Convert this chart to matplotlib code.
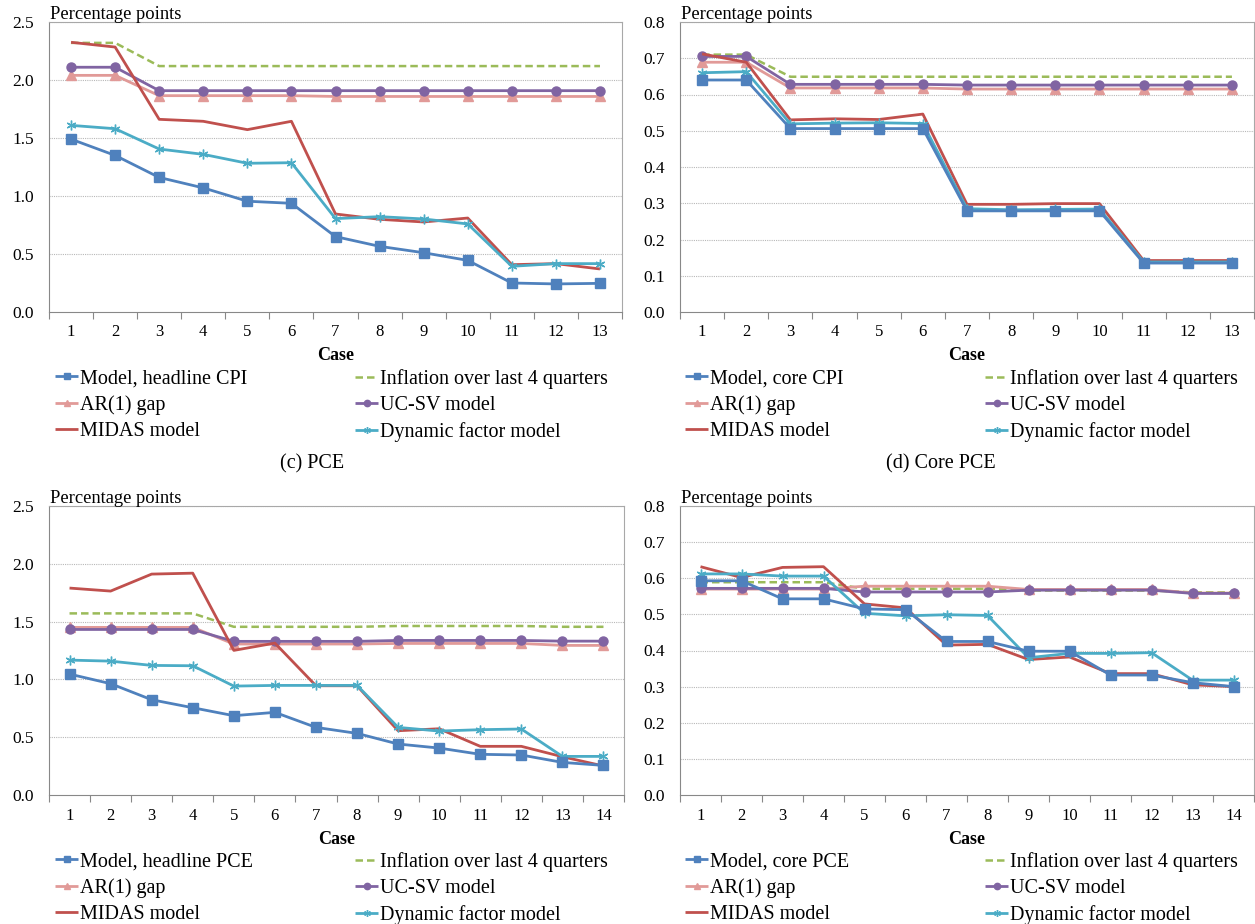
import matplotlib
matplotlib.use("Agg")
import matplotlib.pyplot as plt
import numpy as np

plt.rcParams['font.family'] = ['Liberation Serif', 'DejaVu Serif']

# ---------------- data ----------------
cases13 = list(range(1, 14))
cases14 = list(range(1, 15))

# Panel top-left (headline CPI)
a_model = [1.49, 1.35, 1.16, 1.07, 0.955, 0.937, 0.65, 0.566, 0.511, 0.445, 0.25, 0.242, 0.247]
a_infl = [2.32, 2.32, 2.12, 2.12, 2.12, 2.12, 2.12, 2.12, 2.12, 2.12, 2.12, 2.12, 2.12]
a_ar1 = [2.04, 2.04, 1.865, 1.865, 1.865, 1.865, 1.858, 1.858, 1.858, 1.858, 1.858, 1.858, 1.858]
a_ucsv = [2.11, 2.11, 1.908, 1.908, 1.908, 1.908, 1.908, 1.908, 1.908, 1.908, 1.908, 1.908, 1.908]
a_midas = [2.325, 2.284, 1.661, 1.644, 1.572, 1.644, 0.845, 0.799, 0.776, 0.81, 0.408, 0.417, 0.371]
a_dfm = [1.609, 1.58, 1.405, 1.359, 1.282, 1.287, 0.805, 0.822, 0.802, 0.759, 0.394, 0.417, 0.417]

# Panel top-right (core CPI)
b_model = [0.64, 0.64, 0.506, 0.506, 0.506, 0.506, 0.279, 0.279, 0.279, 0.279, 0.135, 0.135, 0.135]
b_infl = [0.71, 0.71, 0.649, 0.649, 0.649, 0.649, 0.649, 0.649, 0.649, 0.649, 0.649, 0.649, 0.649]
b_ar1 = [0.689, 0.689, 0.618, 0.618, 0.618, 0.618, 0.615, 0.615, 0.615, 0.615, 0.615, 0.615, 0.615]
b_ucsv = [0.705, 0.705, 0.628, 0.628, 0.628, 0.628, 0.626, 0.626, 0.626, 0.626, 0.626, 0.626, 0.626]
b_midas = [0.712, 0.689, 0.530, 0.533, 0.531, 0.546, 0.297, 0.297, 0.299, 0.299, 0.142, 0.142, 0.142]
b_dfm = [0.66, 0.663, 0.519, 0.521, 0.522, 0.520, 0.285, 0.282, 0.283, 0.284, 0.138, 0.138, 0.138]

# Panel bottom-left (PCE)
c_model = [1.046, 0.963, 0.824, 0.755, 0.686, 0.715, 0.585, 0.533, 0.441, 0.406, 0.352, 0.346, 0.282, 0.256]
c_infl = [1.571, 1.571, 1.571, 1.571, 1.455, 1.455, 1.455, 1.455, 1.462, 1.462, 1.462, 1.462, 1.455, 1.455]
c_ar1 = [1.45, 1.45, 1.45, 1.45, 1.306, 1.306, 1.306, 1.306, 1.311, 1.311, 1.311, 1.311, 1.294, 1.294]
c_ucsv = [1.432, 1.432, 1.432, 1.432, 1.329, 1.329, 1.329, 1.329, 1.337, 1.337, 1.337, 1.337, 1.331, 1.331]
c_midas = [1.79, 1.764, 1.911, 1.919, 1.251, 1.314, 0.945, 0.945, 0.556, 0.573, 0.421, 0.421, 0.331, 0.251]
c_dfm = [1.167, 1.158, 1.121, 1.118, 0.942, 0.948, 0.948, 0.948, 0.585, 0.553, 0.565, 0.571, 0.334, 0.334]

# Panel bottom-right (core PCE)
d_model = [0.593, 0.593, 0.543, 0.543, 0.515, 0.513, 0.425, 0.425, 0.398, 0.398, 0.332, 0.332, 0.311, 0.300]
d_infl = [0.589, 0.589, 0.589, 0.589, 0.571, 0.571, 0.571, 0.571, 0.566, 0.566, 0.566, 0.566, 0.561, 0.561]
d_ar1 = [0.570, 0.570, 0.570, 0.570, 0.578, 0.578, 0.578, 0.578, 0.569, 0.569, 0.569, 0.569, 0.559, 0.559]
d_ucsv = [0.572, 0.572, 0.572, 0.572, 0.562, 0.562, 0.562, 0.562, 0.567, 0.567, 0.567, 0.567, 0.558, 0.558]
d_midas = [0.632, 0.602, 0.630, 0.632, 0.529, 0.518, 0.415, 0.417, 0.375, 0.382, 0.336, 0.336, 0.305, 0.300]
d_dfm = [0.612, 0.612, 0.606, 0.606, 0.503, 0.496, 0.499, 0.497, 0.380, 0.392, 0.392, 0.394, 0.318, 0.318]

labels_a = ["Model, headline CPI", "Inflation over last 4 quarters", "AR(1) gap",
            "UC-SV model", "MIDAS model", "Dynamic factor model"]
labels_b = ["Model, core CPI", "Inflation over last 4 quarters", "AR(1) gap",
            "UC-SV model", "MIDAS model", "Dynamic factor model"]
labels_c = ["Model, headline PCE", "Inflation over last 4 quarters", "AR(1) gap",
            "UC-SV model", "MIDAS model", "Dynamic factor model"]
labels_d = ["Model, core PCE", "Inflation over last 4 quarters", "AR(1) gap",
            "UC-SV model", "MIDAS model", "Dynamic factor model"]

subtitles = ["(c) PCE", "(d) Core PCE"]

# ---------------- style ----------------
C_MODEL = "#4F81BD"
C_INFL = "#9BBB59"
C_AR1 = "#E19A98"
C_UCSV = "#8064A2"
C_MIDAS = "#C0504D"
C_DFM = "#4BACC6"
ASTER = (6, 2, 0)

styles = [
    dict(color=C_MODEL, marker='s', ms=6.5, lw=2.0, ls='-', zorder=6),
    dict(color=C_INFL, marker=None, lw=1.8, ls=(0, (3, 1.6)), zorder=3),
    dict(color=C_AR1, marker='^', ms=6.5, lw=2.0, ls='-', zorder=4),
    dict(color=C_UCSV, marker='o', ms=6.5, lw=2.0, ls='-', zorder=5),
    dict(color=C_MIDAS, marker=None, lw=2.0, ls='-', zorder=5),
    dict(color=C_DFM, marker=ASTER, ms=7, mew=1.0, lw=2.0, ls='-', zorder=5),
]

W, H = 1255, 924
fig = plt.figure(figsize=(W / 100, H / 100), dpi=100)


def px_ax(x0, y0, x1, y1):
    return fig.add_axes([x0 / W, 1 - y1 / H, (x1 - x0) / W, (y1 - y0) / H])


panels = [
    (px_ax(49, 22, 622, 312), cases13, [a_model, a_infl, a_ar1, a_ucsv, a_midas, a_dfm], labels_a, 2.5, 0.5),
    (px_ax(680, 22, 1254, 312), cases13, [b_model, b_infl, b_ar1, b_ucsv, b_midas, b_dfm], labels_b, 0.8, 0.1),
    (px_ax(49, 506, 624, 795), cases14, [c_model, c_infl, c_ar1, c_ucsv, c_midas, c_dfm], labels_c, 2.5, 0.5),
    (px_ax(680, 506, 1254, 795), cases14, [d_model, d_infl, d_ar1, d_ucsv, d_midas, d_dfm], labels_d, 0.8, 0.1),
]

legend_pos = [(55, 369, 355), (685, 369, 985), (55, 852, 355), (685, 852, 985)]
case_y = [356, 356, 840, 840]

for i, (ax, cases, series, labels, ymax, ystep) in enumerate(panels):
    handles = []
    for s, st, lab in zip(series, styles, labels):
        kw = dict(st)
        mfc = kw.get('color')
        ln, = ax.plot(cases, s, label=lab, color=kw['color'], marker=kw.get('marker'),
                      ms=kw.get('ms', 6), mew=kw.get('mew', 1.0), lw=kw['lw'], ls=kw['ls'],
                      zorder=kw['zorder'], mfc=mfc, mec=mfc, solid_capstyle='butt')
        handles.append(ln)
    n = len(cases)
    ax.set_xlim(0.5, n + 0.5)
    ax.set_ylim(0, ymax)
    yt = np.round(np.arange(0, ymax + ystep / 2, ystep), 2)
    ax.set_yticks(yt)
    ax.set_yticklabels([f"{v:.1f}" for v in yt], fontsize=12.5)
    ax.set_xticks(cases)
    ax.set_xticklabels([str(c) for c in cases], fontsize=12)
    ax.set_xticks(np.arange(0.5, n + 1, 1.0), minor=True)
    ax.tick_params(axis='x', which='major', length=0, pad=9)
    ax.tick_params(axis='x', which='minor', length=5, color='#888888', width=0.8, direction='out')
    ax.tick_params(axis='y', length=0, pad=11)
    for v in yt[1:]:
        ax.axhline(v, color='#B8B8B8', lw=0.8, ls=(0, (1, 1)), zorder=1)
    for sp in ax.spines.values():
        sp.set_color('#A8A8A8')
        sp.set_linewidth(0.8)
    ax.spines['bottom'].set_color('#888888')
    ax.spines['left'].set_color('#888888')
    ax.text(0.002, 0.996, "Percentage points", transform=ax.transAxes, fontsize=13.3,
            ha='left', va='bottom')
    bb = ax.get_position()
    fig.text(bb.x0 + bb.width / 2, 1 - case_y[i] / H, "Case", fontsize=13, fontweight='bold',
             ha='center', va='center')
    lx1, ly, lx2 = legend_pos[i]
    col1 = [handles[0], handles[2], handles[4]]
    col2 = [handles[1], handles[3], handles[5]]
    leg_kw = dict(frameon=False, fontsize=14.5, loc='upper left', borderpad=0, borderaxespad=0,
                  handlelength=1.15, handletextpad=0.1, labelspacing=0.34,
                  bbox_transform=fig.transFigure, markerscale=0.7)
    fig.legend(col1, [h.get_label() for h in col1],
               bbox_to_anchor=(lx1 / W, 1 - ly / H), **leg_kw)
    fig.legend(col2, [h.get_label() for h in col2],
               bbox_to_anchor=(lx2 / W, 1 - ly / H), **leg_kw)

fig.text(312 / W, 1 - 464 / H, subtitles[0], fontsize=14.5, ha='center', va='center')
fig.text(941 / W, 1 - 464 / H, subtitles[1], fontsize=14.5, ha='center', va='center')

fig.savefig("out.png", dpi=100)
